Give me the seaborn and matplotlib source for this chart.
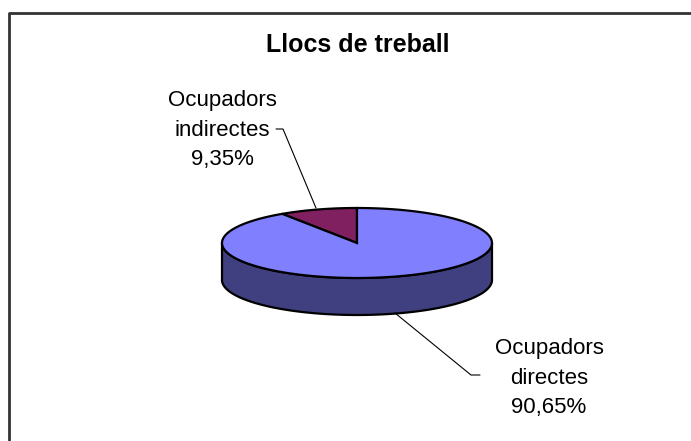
# Llocs de treball - gràfic de pastís 3D (estil Excel)
import numpy as np
import matplotlib
matplotlib.use("Agg")
import matplotlib.pyplot as plt
import seaborn as sns

# Dades
categories = ["Ocupadors indirectes", "Ocupadors directes"]
percentatges = [9.35, 90.65]
etiquetes = ["Ocupadors\nindirectes\n9,35%", "Ocupadors\ndirectes\n90,65%"]
colors_sup = ["#802060", "#8080FF"]
colors_lat = ["#401030", "#404080"]

sns.set_theme(style="white")
plt.rcParams['font.family'] = ['Liberation Sans', 'DejaVu Sans']
plt.rcParams['text.color'] = 'black'

fig = plt.figure(figsize=(6.91, 4.41), dpi=100)
ax = fig.add_axes([0, 0, 1, 1])
ax.set_xlim(0, 691)
ax.set_ylim(441, 0)
ax.axis('off')

# geometria del pastís (píxels)
cx, cy = 357, 243
ra, rb = 135, 35
fons = 37


def punt(theta):
    t = np.radians(theta)
    return cx + ra * np.cos(t), cy - rb * np.sin(t)


# angles de cada porció (comença a les 12, sentit antihorari)
inici = 90.0
rangs = []
for p in percentatges:
    fi = inici + p / 100 * 360
    rangs.append((inici, fi))
    inici = fi

# cara lateral (només la meitat frontal, 180-360)
for (a0, a1), col in zip(rangs, colors_lat):
    for despl in (0, 360):
        lo = max(a0, 180 + despl)
        hi = min(a1, 360 + despl)
        if hi <= lo:
            continue
        th = np.linspace(lo, hi, 200)
        x, y = punt(th)
        xs = np.concatenate([x, x[::-1]])
        ys = np.concatenate([y, (y + fons)[::-1]])
        ax.fill(xs, ys, facecolor=col, edgecolor='black', lw=1.6, zorder=1)

# cara superior
for (a0, a1), col in zip(rangs, colors_sup):
    th = np.linspace(a0, a1, 300)
    x, y = punt(th)
    xs = np.concatenate([[cx], x, [cx]])
    ys = np.concatenate([[cy], y, [cy]])
    ax.fill(xs, ys, facecolor=col, edgecolor='black', lw=1.6, zorder=2,
            joinstyle='miter')

# títol
ax.text(358, 45, "Llocs de treball", ha='center', va='center',
        fontsize=18, fontweight='bold', zorder=5)

# etiquetes i línies guia
ax.text(222, 130, etiquetes[0], ha='center', va='center', fontsize=16,
        linespacing=1.55, zorder=5)
ax.plot([276, 283, 316], [129, 129, 208], color='black', lw=0.8, zorder=3)

ax.text(549, 378, etiquetes[1], ha='center', va='center', fontsize=16,
        linespacing=1.55, zorder=5)
ax.plot([395, 471, 480], [313, 375, 375], color='black', lw=0.8, zorder=3)

# marc del gràfic
ax.plot([9.5, 9.5, 700], [450, 12.5, 12.5], color='#333333', lw=2, zorder=6,
        clip_on=False)

fig.savefig("out.png", dpi=100)
